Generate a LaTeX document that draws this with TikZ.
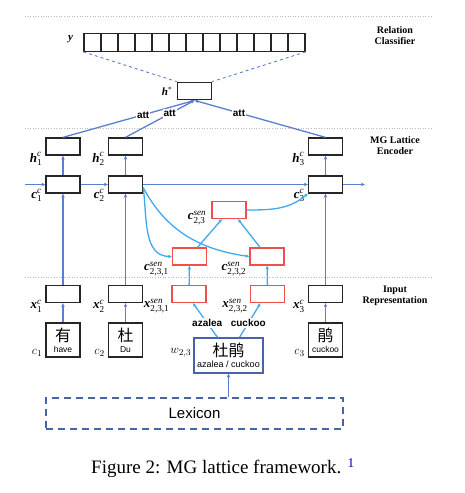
\documentclass[tikz,border=0pt]{standalone}
\usepackage{amsmath}
\usepackage{fontspec}
\setmainfont{Liberation Serif}
\setsansfont{Liberation Sans}
\newfontfamily\cjk{Noto Sans CJK SC}
\usetikzlibrary{arrows.meta}
\definecolor{lineblue}{HTML}{5B7FD0}
\definecolor{senblue}{HTML}{3FA9EE}
\definecolor{senred}{HTML}{F0504A}
\definecolor{lexblue}{HTML}{4664A8}
\newcommand{\vlbl}[3]{$\textbf{\textit{#1}}^{\textit{#2}}_{\textup{#3}}$}

\begin{document}
\begin{tikzpicture}[x=1pt, y=1pt,
    cell/.style={draw=black!85, line width=1.3pt, minimum width=34pt, minimum height=17pt, inner sep=0pt},
    sen/.style={cell, draw=senred},
    chr/.style={cell, minimum height=34pt, align=center},
    tag/.style={font=\fontsize{13}{13}\selectfont, anchor=east, inner sep=1pt},
    flow/.style={lineblue, line width=1.3pt, -{Stealth[length=4pt, width=3.5pt]}},
    senflow/.style={senblue, line width=1.3pt, -{Stealth[length=4pt, width=3.5pt]}},
    part/.style={font=\fontsize{10}{11}\selectfont\bfseries, align=center},
    word/.style={font=\sffamily\bfseries\fontsize{10}{10}\selectfont, fill=white, text=black, inner sep=1pt},
    sep/.style={gray!55, dotted, line width=0.6pt}]
    \useasboundingbox (0,0) rectangle (465,-493);

    \draw[sep] (25,-16) -- (432,-16);
    \draw[sep] (25,-128) -- (432,-128);
    \draw[sep] (25,-277) -- (432,-277);
    \node[part] (rc) at (395,-35.5) {Relation\\Classifier};
    \node[part] (mg) at (395,-146) {MG Lattice\\Encoder};
    \node[part] (ir) at (395,-296) {Input\\Representation};

    \foreach \i in {0,...,12}
        \node[cell, minimum width=17pt, minimum height=17.5pt] (y\i) at (92.5+17*\i,-42.5) {};
    \node[font=\fontsize{11}{11}\selectfont, anchor=east, inner sep=1pt] at ([xshift=-9pt, yshift=3pt]y0.west) {\textbf{\textit{y}}};
    \node[cell, minimum height=17.5pt] (hs) at (194.5,-91) {};
    \node[font=\fontsize{11}{11}\selectfont, anchor=east, inner sep=1pt] at ([xshift=-3pt]hs.west) {$\textbf{\textit{h}}^{*}$};
    \draw[lineblue, dashed, line width=0.9pt] (y0.south west) -- (hs.north west);
    \draw[lineblue, dashed, line width=0.9pt] (y12.south east) -- (hs.north east);

    \node[cell] (h1) at (63,-146.5) {};
    \node[cell] (h2) at (125.5,-146.5) {};
    \node[cell] (h3) at (325.5,-146.5) {};
    \node[cell] (c1) at (63,-184.5) {};
    \node[cell] (c2) at (125.5,-184.5) {};
    \node[cell] (c3) at (325.5,-184.5) {};
    \node[cell] (x1) at (63,-294) {};
    \node[cell] (x2) at (125.5,-294) {};
    \node[cell] (x3) at (325.5,-294) {};
    \node[tag] at ([xshift=-2pt, yshift=-3pt]h1.south west) {\vlbl{h}{c}{1}};
    \node[tag] at ([xshift=-2pt, yshift=-3pt]h2.south west) {\vlbl{h}{c}{2}};
    \node[tag] at ([xshift=-2pt, yshift=-3pt]h3.south west) {\vlbl{h}{c}{3}};
    \node[tag] at ([xshift=-2pt, yshift=-2pt]c1.south west) {\vlbl{c}{c}{1}};
    \node[tag] at ([xshift=-2pt, yshift=-2pt]c2.south west) {\vlbl{c}{c}{2}};
    \node[tag] at ([xshift=-2pt, yshift=-2pt]c3.south west) {\vlbl{c}{c}{3}};
    \node[tag] at ([xshift=-2pt, yshift=-3pt]x1.south west) {\vlbl{x}{c}{1}};
    \node[tag] at ([xshift=-2pt, yshift=-3pt]x2.south west) {\vlbl{x}{c}{2}};
    \node[tag] at ([xshift=-2pt, yshift=-3pt]x3.south west) {\vlbl{x}{c}{3}};

    \node[sen] (s23) at (229,-210) {};
    \node[sen] (s231) at (189.5,-256.5) {};
    \node[sen] (s232) at (267,-256.5) {};
    \node[sen] (xs231) at (189,-294) {};
    \node[sen] (xs232) at (267.5,-294) {};
    \node[tag] at ([xshift=-4pt, yshift=1pt]s23.south west) {\vlbl{c}{sen}{2,3}};
    \node[tag] at ([xshift=-2pt, yshift=-3pt]s231.south west) {\vlbl{c}{sen}{2,3,1}};
    \node[tag] at ([xshift=-2pt, yshift=-3pt]s232.south west) {\vlbl{c}{sen}{2,3,2}};
    \node[tag] at ([xshift=-1pt, yshift=-3pt]xs231.south west) {\vlbl{x}{sen}{2,3,1}};
    \node[tag] at ([xshift=-1pt, yshift=-3pt]xs232.south west) {\vlbl{x}{sen}{2,3,2}};

    \node[chr] (ch1) at (63,-340) {\cjk\fontsize{16}{16}\selectfont 有\\[-1pt]\sffamily\fontsize{8.5}{9}\selectfont have};
    \node[chr] (ch2) at (125.5,-340) {\cjk\fontsize{16}{16}\selectfont 杜\\[-1pt]\sffamily\fontsize{8.5}{9}\selectfont Du};
    \node[chr] (ch3) at (325.5,-340) {\cjk\fontsize{16}{16}\selectfont 鹃\\[-1pt]\sffamily\fontsize{8.5}{9}\selectfont cuckoo};
    \node[tag, anchor=south east] at ([xshift=-2pt]ch1.south west) {$c_1$};
    \node[tag, anchor=south east] at ([xshift=-2pt]ch2.south west) {$c_2$};
    \node[tag, anchor=south east] at ([xshift=-2pt]ch3.south west) {$c_3$};
    \node[chr, draw=lexblue, minimum width=69pt, minimum height=35pt] (w23) at (228.5,-355.5) {\cjk\fontsize{16}{16}\selectfont 杜鹃\\[-1pt]\sffamily\fontsize{9}{9}\selectfont azalea / cuckoo};
    \node[tag] at ([xshift=-1pt, yshift=3pt]w23.west) {$w_{2,3}$};
    \node[draw=lexblue, dash pattern=on 7pt off 5pt, line width=2pt, minimum width=297pt, minimum height=31pt, font=\sffamily\fontsize{15}{15}\selectfont] (lex) at (194.5,-413) {Lexicon};

    \coordinate (in) at (25,-184.5);
    \coordinate (out) at (365,-184.5);
    \draw[flow] (in) -- (c1);
    \draw[flow] (c1) -- (c2);
    \draw[flow] (c2) -- (c3);
    \draw[flow] (c3) -- (out);
    \draw[flow] (c1) -- (h1);
    \draw[flow] (c2) -- (h2);
    \draw[flow] (c3) -- (h3);
    \draw[flow] (x1) -- (c1);
    \draw[flow] (x2) -- (c2);
    \draw[flow] (x3) -- (c3);
    \draw[flow] (ch1) -- (x1);
    \draw[flow] (ch2) -- (x2);
    \draw[flow] (ch3) -- (x3);
    \draw[flow] (w23.south |- lex.north) -- (w23.south);

    \draw[flow] (h1.north) -- node[word, pos=0.61] {att} (hs.south);
    \draw[flow] (h2.north) -- node[word, pos=0.64] {att} (hs.south);
    \draw[flow] (h3.north) -- node[word, pos=0.66] {att} (hs.south);

    \draw[senflow] ([yshift=-3pt]c2.east) to[out=-82, in=180] (s231.west);
    \draw[senflow] ([yshift=-3pt]c2.east) to[out=-62, in=172] (s232.west);
    \draw[senflow] ([xshift=8pt]s231.north) -- ([xshift=-7pt]s23.south);
    \draw[senflow] ([xshift=-7pt]s232.north) -- ([xshift=9pt]s23.south);
    \draw[senflow] (s23.east) to[out=0, in=-140] (c3.south west);
    \draw[senflow] (xs231) -- (s231);
    \draw[senflow] (xs232) -- (s232);
    \draw[senflow] ([xshift=-11pt]w23.north) -- node[word, pos=0.42] {azalea} ([xshift=4pt]xs231.south);
    \draw[senflow] ([xshift=11pt]w23.north) -- node[word, pos=0.42] {cuckoo} ([xshift=-7pt]xs232.south);

    \node[font=\fontsize{19}{19}\selectfont] (cap) at (223,-468) {Figure 2: MG lattice framework. \textsuperscript{\color{blue!70!black}1}};
\end{tikzpicture}
\end{document}
